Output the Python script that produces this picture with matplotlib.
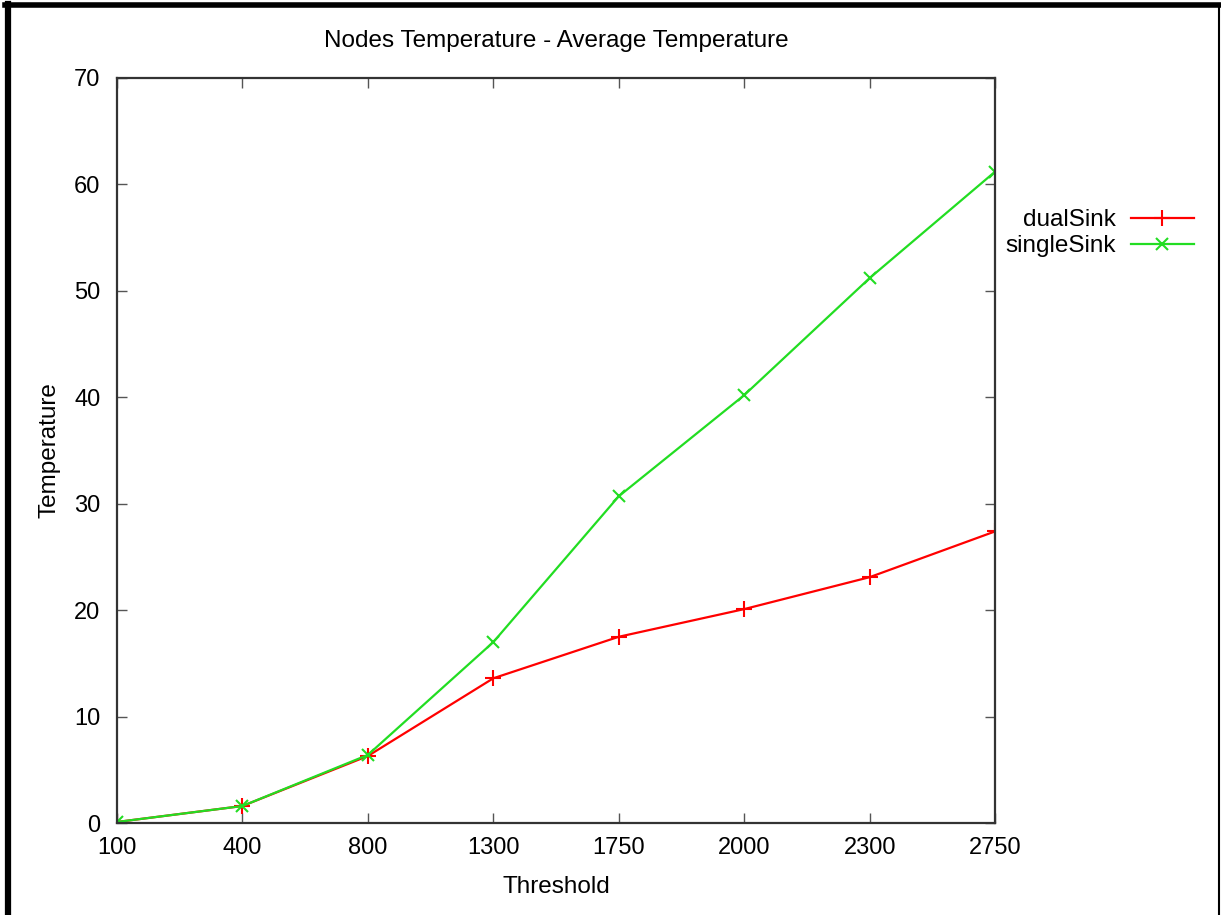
import matplotlib
matplotlib.use("Agg")
from matplotlib import pyplot as plt
from matplotlib.lines import Line2D

plt.rcParams['font.family'] = ['Liberation Sans', 'DejaVu Sans']

thresholds = ['100', '400', '800', '1300', '1750', '2000', '2300', '2750']
dual_sink = [0.1, 1.6, 6.3, 13.6, 17.5, 20.1, 23.1, 27.4]
single_sink = [0.1, 1.6, 6.4, 17.0, 30.7, 40.2, 51.2, 61.2]

fig = plt.figure(figsize=(12.21, 9.15), dpi=100)
ax = fig.add_axes([0.0958, 0.1005, 0.7192, 0.8143])

pos = list(range(len(thresholds)))
ax.plot(pos, dual_sink, color='#ff0000', lw=1.6, marker='+', ms=11, mew=1.5, label='dualSink')
ax.plot(pos, single_sink, color='#22dd22', lw=1.6, marker='x', ms=9, mew=1.5, label='singleSink')

ax.set_xlim(0, len(thresholds) - 1)
ax.set_ylim(0, 70)
ax.set_xticks(pos)
ax.set_xticklabels(thresholds)
ax.set_yticks(range(0, 71, 10))
ax.tick_params(direction='in', top=True, right=True, length=7, width=1, color='#555555',
               labelsize=17, pad=10)
ax.tick_params(axis='y', pad=12)
for s in ax.spines.values():
    s.set_color('#333333')
    s.set_linewidth(1.6)

ax.set_xlabel('Threshold', fontsize=17.5, labelpad=12)
ax.set_ylabel('Temperature', fontsize=17.5, labelpad=10)
ax.set_title('Nodes Temperature - Average Temperature', fontsize=17.5, pad=22)

ax.legend(loc='upper left', bbox_to_anchor=(0.987, 0.853), frameon=False, markerfirst=False,
          fontsize=17.5, handlelength=2.6, handletextpad=0.6, labelspacing=0.15,
          alignment='right')

# picture frame
fig.add_artist(Line2D([0.0062, 0.0062], [0, 0.996], color='black', lw=4.5, transform=fig.transFigure))
fig.add_artist(Line2D([0.004, 1.0], [0.994, 0.994], color='black', lw=4.0, transform=fig.transFigure))
fig.add_artist(Line2D([0.9984, 0.9984], [0, 0.996], color='black', lw=1.5, transform=fig.transFigure))

fig.savefig('out.png', dpi=100)
